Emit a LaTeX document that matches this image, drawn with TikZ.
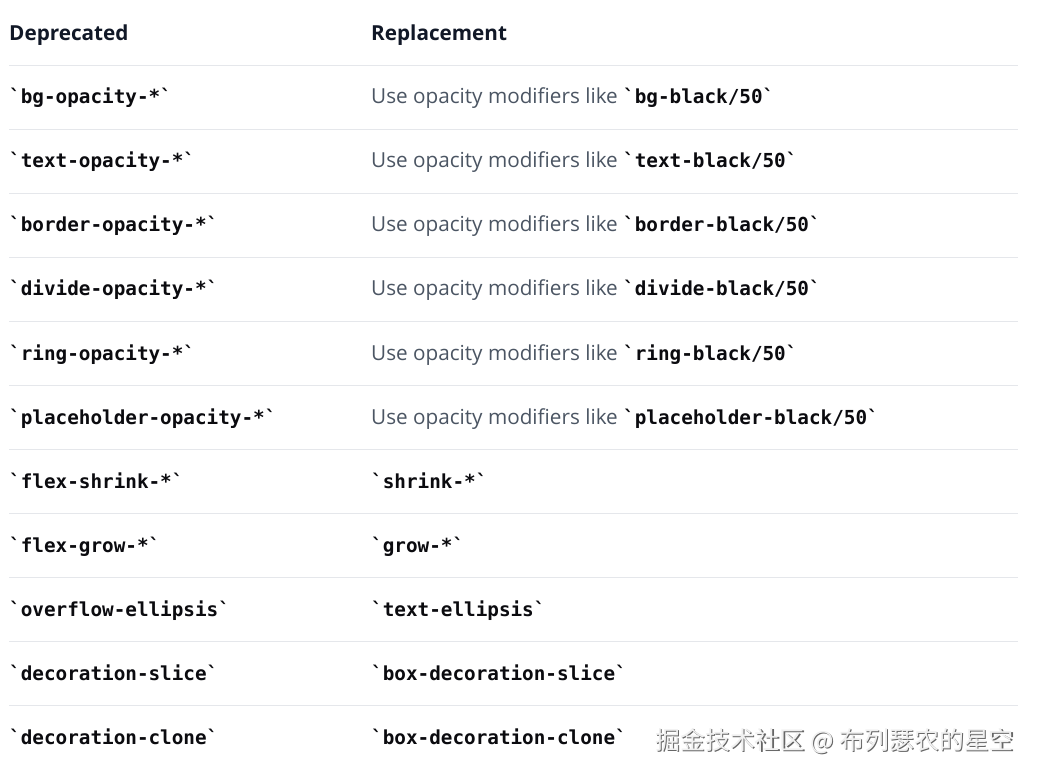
\documentclass[tikz,border=0pt]{standalone}
\usepackage{fontspec}
\setmainfont{Open Sans}
\setmonofont{DejaVu Sans Mono}
\newfontfamily\cjk{Noto Sans CJK SC}
\usetikzlibrary{positioning}
\definecolor{rulegray}{HTML}{E5E7EB}
\definecolor{headink}{HTML}{111827}
\definecolor{softink}{HTML}{4B5563}
\definecolor{codeink}{HTML}{0B0B0F}
\newcommand{\cd}[1]{{\fontsize{19.3}{22}\selectfont\ttfamily\bfseries\color{codeink}`#1`}}
\tikzset{
  cell/.style={anchor=base west,inner sep=0pt,font=\fontsize{20.7}{24}\selectfont},
  head/.style={cell,font=\fontsize{20.7}{24}\selectfont\bfseries,text=headink},
  code/.style={cell,font=\fontsize{19.3}{22}\selectfont\ttfamily\bfseries,text=codeink},
  hint/.style={cell,text=softink},
  rowline/.style={draw=rulegray,line width=1.1pt}
}

\begin{document}
\begin{tikzpicture}[x=1pt,y=-1pt]
    \useasboundingbox[fill=white](0,0) rectangle (1037,778);
    % header
    \node[head] (hdep) at (9,40.5) {Deprecated};
    \node[head] (hrep) at (371,40.5) {Replacement};
    % separators
    \draw[rowline](9,65.5)--(1018,65.5);
    \draw[rowline](9,129.5)--(1018,129.5);
    \draw[rowline](9,193.5)--(1018,193.5);
    \draw[rowline](9,257.5)--(1018,257.5);
    \draw[rowline](9,321.5)--(1018,321.5);
    \draw[rowline](9,385.5)--(1018,385.5);
    \draw[rowline](9,449.5)--(1018,449.5);
    \draw[rowline](9,513.5)--(1018,513.5);
    \draw[rowline](9,577.5)--(1018,577.5);
    \draw[rowline](9,641.5)--(1018,641.5);
    \draw[rowline](9,705.5)--(1018,705.5);
    % deprecated column
    \node[code] (bgop) at (9,104) {`bg-opacity-*`};
    \node[code] (textop) at (9,168) {`text-opacity-*`};
    \node[code] (borderop) at (9,232) {`border-opacity-*`};
    \node[code] (divideop) at (9,296) {`divide-opacity-*`};
    \node[code] (ringop) at (9,360) {`ring-opacity-*`};
    \node[code] (placeop) at (9,424) {`placeholder-opacity-*`};
    \node[code] (fshrink) at (9,488) {`flex-shrink-*`};
    \node[code] (fgrow) at (9,552) {`flex-grow-*`};
    \node[code] (ovell) at (9,616) {`overflow-ellipsis`};
    \node[code] (decslice) at (9,680) {`decoration-slice`};
    \node[code] (decclone) at (9,744) {`decoration-clone`};
    % replacement column
    \node[hint] (bgrep) at (371,104) {Use opacity modifiers like \cd{bg-black/50}};
    \node[hint] (textrep) at (371,168) {Use opacity modifiers like \cd{text-black/50}};
    \node[hint] (borderrep) at (371,232) {Use opacity modifiers like \cd{border-black/50}};
    \node[hint] (dividerep) at (371,296) {Use opacity modifiers like \cd{divide-black/50}};
    \node[hint] (ringrep) at (371,360) {Use opacity modifiers like \cd{ring-black/50}};
    \node[hint] (placerep) at (371,424) {Use opacity modifiers like \cd{placeholder-black/50}};
    \node[code] (shrink) at (371,488) {`shrink-*`};
    \node[code] (grow) at (371,552) {`grow-*`};
    \node[code] (textell) at (371,616) {`text-ellipsis`};
    \node[code] (boxslice) at (371,680) {`box-decoration-slice`};
    \node[code] (boxclone) at (371,744) {`box-decoration-clone`};
    % watermark
    \node[anchor=base east,inner sep=0pt,text=black!60,font=\fontsize{24.9}{30}\cjk] (wmshade) at (1015.2,750.2) {掘金技术社区 @ 布列瑟农的星空};
    \node[anchor=base east,inner sep=0pt,text=black!6,font=\fontsize{24.9}{30}\cjk] (wm) at (1014,749) {掘金技术社区 @ 布列瑟农的星空};
\end{tikzpicture}
\end{document}
